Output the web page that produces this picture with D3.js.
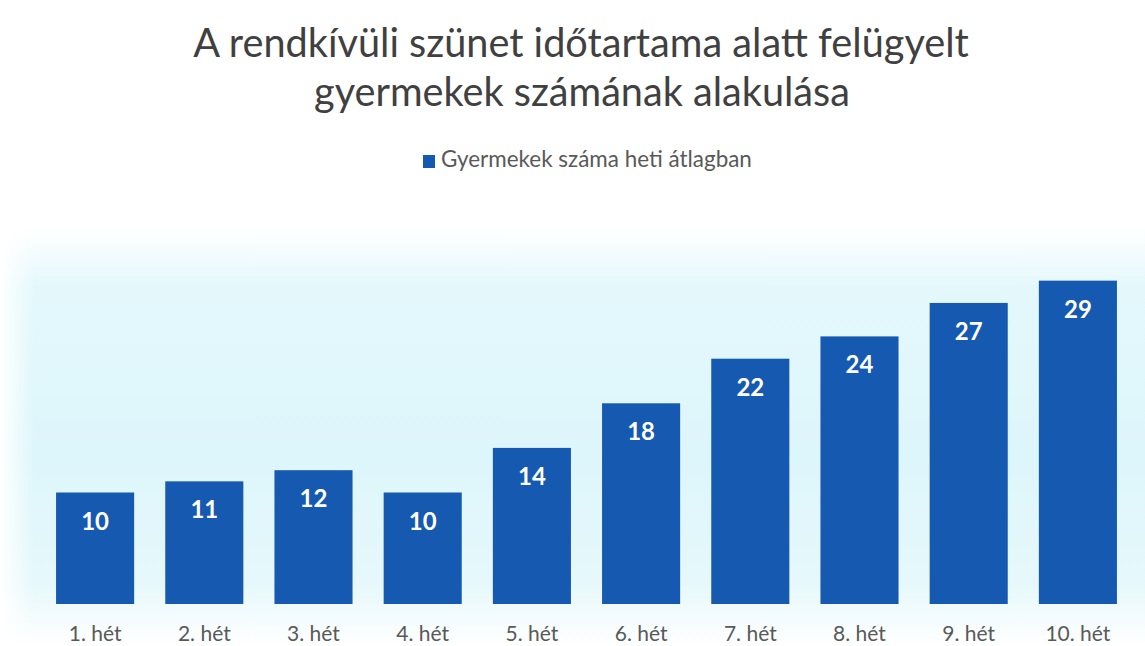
<!DOCTYPE html>
<html><head><meta charset="utf-8">
<script src="https://cdn.jsdelivr.net/npm/d3@7"></script>
<style>html,body{margin:0;padding:0;background:#fff;}svg{display:block;}</style>
</head><body>
<svg id="c" width="1145" height="646"></svg>
<script>
const titleLines = ["A rendkívüli szünet időtartama alatt felügyelt", "gyermekek számának alakulása"];
const seriesName = "Gyermekek száma heti átlagban";
const categories = ["1. hét","2. hét","3. hét","4. hét","5. hét","6. hét","7. hét","8. hét","9. hét","10. hét"];
const values = [10, 11, 12, 10, 14, 18, 22, 24, 27, 29];

const W = 1145, H = 646;
const svg = d3.select("#c");
const FONT = "Lato, 'Open Sans', 'Noto Sans', sans-serif";
const barColor = "#1559b1";

// background gradient
const defs = svg.append("defs");
const g1 = defs.append("linearGradient").attr("id","bg").attr("x1",0).attr("y1",0).attr("x2",0).attr("y2",1);
g1.append("stop").attr("offset","0%").attr("stop-color","#ffffff");
g1.append("stop").attr("offset","14%").attr("stop-color","#e4f8fc");
g1.append("stop").attr("offset","55%").attr("stop-color","#ddf6fb");
g1.append("stop").attr("offset","85%").attr("stop-color","#e6f8fb");
g1.append("stop").attr("offset","100%").attr("stop-color","#ffffff");
const g2 = defs.append("linearGradient").attr("id","bgx").attr("x1",0).attr("y1",0).attr("x2",1).attr("y2",0);
g2.append("stop").attr("offset","0%").attr("stop-color","#ffffff").attr("stop-opacity",1);
g2.append("stop").attr("offset","3%").attr("stop-color","#ffffff").attr("stop-opacity",0);
g2.append("stop").attr("offset","100%").attr("stop-color","#ffffff").attr("stop-opacity",0);
svg.append("rect").attr("x",0).attr("y",0).attr("width",W).attr("height",H).attr("fill","#fff");
svg.append("rect").attr("x",0).attr("y",228).attr("width",W).attr("height",418).attr("fill","url(#bg)");
svg.append("rect").attr("x",0).attr("y",228).attr("width",W).attr("height",418).attr("fill","url(#bgx)");

// title
function fitText(sel, target){
  const w = sel.node().getComputedTextLength();
  const fs = parseFloat(sel.attr("font-size"));
  sel.attr("font-size", fs*target/w);
}
const t1 = svg.append("text").attr("x",581).attr("y",57).attr("text-anchor","middle")
  .attr("font-family",FONT).attr("font-size",33).attr("fill","#404040").text(titleLines[0]);
fitText(t1, 776);
const t2 = svg.append("text").attr("x",582).attr("y",106).attr("text-anchor","middle")
  .attr("font-family",FONT).attr("font-size",33).attr("fill","#404040").text(titleLines[1]);
fitText(t2, 536);

// legend
svg.append("rect").attr("x",423).attr("y",155).attr("width",12).attr("height",13).attr("fill",barColor);
const lt = svg.append("text").attr("x",441).attr("y",167).attr("font-family",FONT).attr("font-size",17)
  .attr("fill","#595959").text(seriesName);
fitText(lt, 311);

// scales
const x = d3.scaleBand().domain(categories).range([40.5, 1132.5]).paddingInner(0.285).paddingOuter(0.1425);
const y = d3.scaleLinear().domain([0, 30]).range([604, 269.5]);

svg.append("g").selectAll("rect").data(values).join("rect")
  .attr("x",(d,i)=>x(categories[i])).attr("width",x.bandwidth())
  .attr("y",d=>y(d)).attr("height",d=>y(0)-y(d)).attr("fill",barColor);

svg.append("g").selectAll("text").data(values).join("text")
  .attr("x",(d,i)=>x(categories[i])+x.bandwidth()/2).attr("y",d=>y(d)+37)
  .attr("text-anchor","middle").attr("font-family",FONT).attr("font-weight","bold")
  .attr("font-size",24).attr("fill","#ffffff").text(d=>d);

const ax = svg.append("g").attr("transform",`translate(0,${y(0)})`)
  .call(d3.axisBottom(x).tickSize(0).tickPadding(22));
ax.select(".domain").remove();
ax.selectAll("text").attr("font-family",FONT).attr("font-size",21).attr("fill","#595959");
</script>
</body></html>
